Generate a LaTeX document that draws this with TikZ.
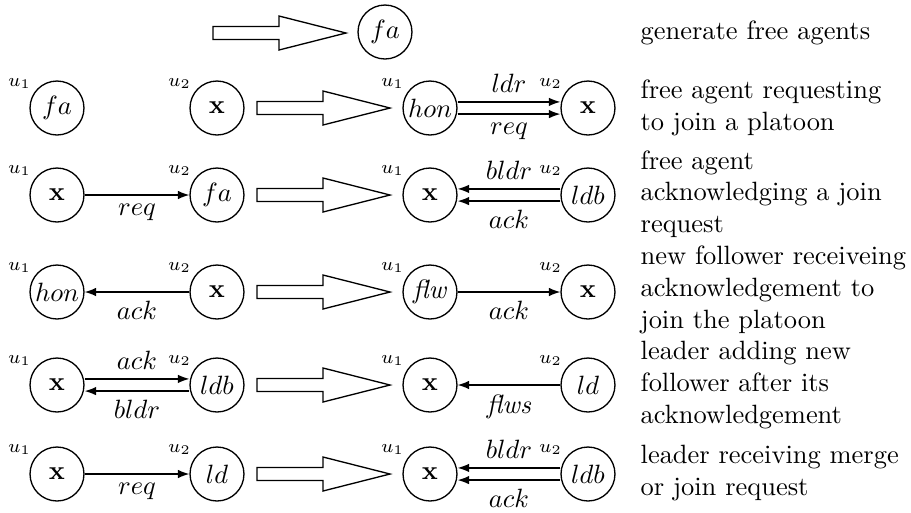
\documentclass[tikz,border=0pt]{standalone}
\usetikzlibrary{arrows.meta}
\begin{document}
\begin{tikzpicture}[x=0.378pt,y=-0.378pt,line width=0.5pt,
  agent/.style={draw,circle,minimum size=20.4pt,inner sep=0pt},
  msg/.style={-{Latex[length=4.3pt,width=3.2pt]}},
  tag/.style={font=\scriptsize,inner sep=1pt},
  note/.style={anchor=west,align=left,inner sep=0pt},
  blockarrow/.pic={\draw (0,-6.5) -- (66,-6.5) -- (66,-17) -- (133,0) -- (66,17) -- (66,6.5) -- (0,6.5) -- cycle;}
]
\useasboundingbox (0,0) rectangle (911,512);

% row 1: generation of free agents
\pic at (213,33) {blockarrow};
\node[agent] (g) at (385,32) {$fa$};
\node[note] (t1) at (640,33) {generate free agents};

% row 2
\node[agent,label={[tag]145:$u_1$}] (a2) at (57,108) {$fa$};
\node[agent,label={[tag]145:$u_2$}] (b2) at (217,108) {$\mathbf{x}$};
\pic at (257,108) {blockarrow};
\node[agent,label={[tag]145:$u_1$}] (c2) at (430,108) {$hon$};
\node[agent,label={[tag]145:$u_2$}] (d2) at (588,108) {$\mathbf{x}$};
\draw[msg] ([yshift=2.3pt]c2.east) -- node[above]{$ldr$} ([yshift=2.3pt]d2.west);
\draw[msg] ([yshift=-2.3pt]c2.east) -- node[below]{$req$} ([yshift=-2.3pt]d2.west);
\node[note] (t2) at (640,108) {free agent requesting\\to join a platoon};

% row 3
\node[agent,label={[tag]145:$u_1$}] (a3) at (57,195) {$\mathbf{x}$};
\node[agent,label={[tag]145:$u_2$}] (b3) at (217,195) {$fa$};
\draw[msg] (a3) -- node[below]{$req$} (b3);
\pic at (257,195) {blockarrow};
\node[agent,label={[tag]145:$u_1$}] (c3) at (430,195) {$\mathbf{x}$};
\node[agent,label={[tag]145:$u_2$}] (d3) at (588,195) {$ldb$};
\draw[msg] ([yshift=2.3pt]d3.west) -- node[above]{$bldr$} ([yshift=2.3pt]c3.east);
\draw[msg] ([yshift=-2.3pt]d3.west) -- node[below]{$ack$} ([yshift=-2.3pt]c3.east);
\node[note] (t3) at (640,194) {free agent\\acknowledging a join\\request};

% row 4
\node[agent,label={[tag]145:$u_1$}] (a4) at (57,292) {$hon$};
\node[agent,label={[tag]145:$u_2$}] (b4) at (217,292) {$\mathbf{x}$};
\draw[msg] (b4) -- node[below]{$ack$} (a4);
\pic at (257,292) {blockarrow};
\node[agent,label={[tag]145:$u_1$}] (c4) at (430,292) {\textit{flw}};
\node[agent,label={[tag]145:$u_2$}] (d4) at (588,292) {$\mathbf{x}$};
\draw[msg] (c4) -- node[below]{$ack$} (d4);
\node[note] (t4) at (640,290) {new follower receiveing\\acknowledgement to\\join the platoon};

% row 5
\node[agent,label={[tag]145:$u_1$}] (a5) at (57,385) {$\mathbf{x}$};
\node[agent,label={[tag]145:$u_2$}] (b5) at (217,385) {$ldb$};
\draw[msg] ([yshift=2.3pt]a5.east) -- node[above]{$ack$} ([yshift=2.3pt]b5.west);
\draw[msg] ([yshift=-2.3pt]b5.west) -- node[below]{$bldr$} ([yshift=-2.3pt]a5.east);
\pic at (257,385) {blockarrow};
\node[agent,label={[tag]145:$u_1$}] (c5) at (430,385) {$\mathbf{x}$};
\node[agent,label={[tag]145:$u_2$}] (d5) at (588,385) {$ld$};
\draw[msg] (d5) -- node[below]{\textit{flws}} (c5);
\node[note] (t5) at (640,385) {leader adding new\\follower after its\\acknowledgement};

% row 6
\node[agent,label={[tag]145:$u_1$}] (a6) at (57,474) {$\mathbf{x}$};
\node[agent,label={[tag]145:$u_2$}] (b6) at (217,474) {$ld$};
\draw[msg] (a6) -- node[below]{$req$} (b6);
\pic at (257,474) {blockarrow};
\node[agent,label={[tag]145:$u_1$}] (c6) at (430,474) {$\mathbf{x}$};
\node[agent,label={[tag]145:$u_2$}] (d6) at (588,474) {$ldb$};
\draw[msg] ([yshift=2.3pt]d6.west) -- node[above]{$bldr$} ([yshift=2.3pt]c6.east);
\draw[msg] ([yshift=-2.3pt]d6.west) -- node[below]{$ack$} ([yshift=-2.3pt]c6.east);
\node[note] (t6) at (640,473) {leader receiving merge\\or join request};
\end{tikzpicture}
\end{document}
